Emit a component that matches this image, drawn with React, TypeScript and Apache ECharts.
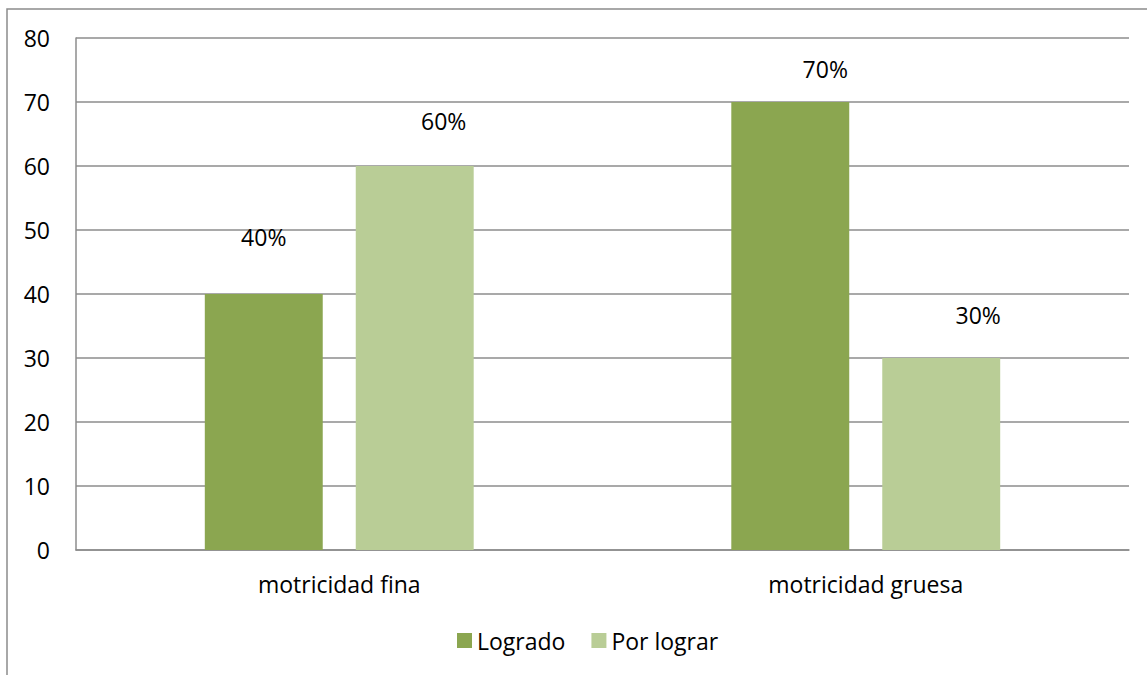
import React, { useEffect, useRef } from "react";
import * as echarts from "echarts";

const categories = ["motricidad fina", "motricidad gruesa"];
const seriesNames = ["Logrado", "Por lograr"];
const logrado = [40, 70];
const porLograr = [60, 30];
const yTicks = { min: 0, max: 80, interval: 10 };

// label offsets (styling only): [dx, dy] per series per category
const labelOffsets = [
  [[0, -46], [35, -22]],
  [[29, -34], [37, -32]],
];

const colors = ["#8BA650", "#B9CD96"];
const FONT = "'Open Sans', sans-serif";

export default function App() {
  const ref = useRef<HTMLDivElement>(null);
  useEffect(() => {
    if (!ref.current) return;
    const chart = echarts.init(ref.current, undefined, { renderer: "svg" });
    const values = [logrado, porLograr];
    chart.setOption({
      animation: false,
      textStyle: { fontFamily: FONT },
      graphic: [
        {
          type: "rect",
          shape: { x: 7, y: 9, width: 1300, height: 800 },
          style: { fill: "none", stroke: "#8c8c8c", lineWidth: 1.5 },
          silent: true,
        },
      ],
      grid: { left: 76, top: 38, right: 18, bottom: 125, containLabel: false },
      legend: {
        left: 452,
        top: 624,
        icon: "rect",
        itemWidth: 15,
        itemHeight: 15,
        itemGap: 26,
        textStyle: { fontFamily: FONT, fontSize: 23, color: "#000" },
        data: seriesNames,
      },
      xAxis: {
        type: "category",
        data: categories,
        axisTick: { show: false },
        axisLine: { show: true, lineStyle: { color: "#8c8c8c", width: 1.5 } },
        axisLabel: { fontFamily: FONT, fontSize: 23, color: "#000", margin: 22 },
      },
      yAxis: {
        type: "value",
        min: yTicks.min,
        max: yTicks.max,
        interval: yTicks.interval,
        axisTick: { show: false },
        axisLine: { show: true, lineStyle: { color: "#8c8c8c", width: 1.5 } },
        splitLine: { show: true, lineStyle: { color: "#8c8c8c", width: 1.5 } },
        axisLabel: { fontFamily: FONT, fontSize: 23, color: "#000", margin: 26 },
      },
      series: seriesNames.map((name, si) => ({
        name,
        type: "bar",
        barWidth: "22.4%",
        barGap: "28%",
        itemStyle: { color: colors[si] },
        data: values[si].map((v, ci) => ({
          value: v,
          label: {
            show: true,
            position: "top",
            distance: 0,
            offset: labelOffsets[si][ci],
            formatter: "{c}%",
            fontFamily: FONT,
            fontSize: 23,
            lineHeight: 23,
            color: "#000",
          },
        })),
      })),
    });
    return () => chart.dispose();
  }, []);
  return (
    <div
      ref={ref}
      style={{ position: "fixed", left: 0, top: 0, width: 1147, height: 675, background: "#fff" }}
    />
  );
}
